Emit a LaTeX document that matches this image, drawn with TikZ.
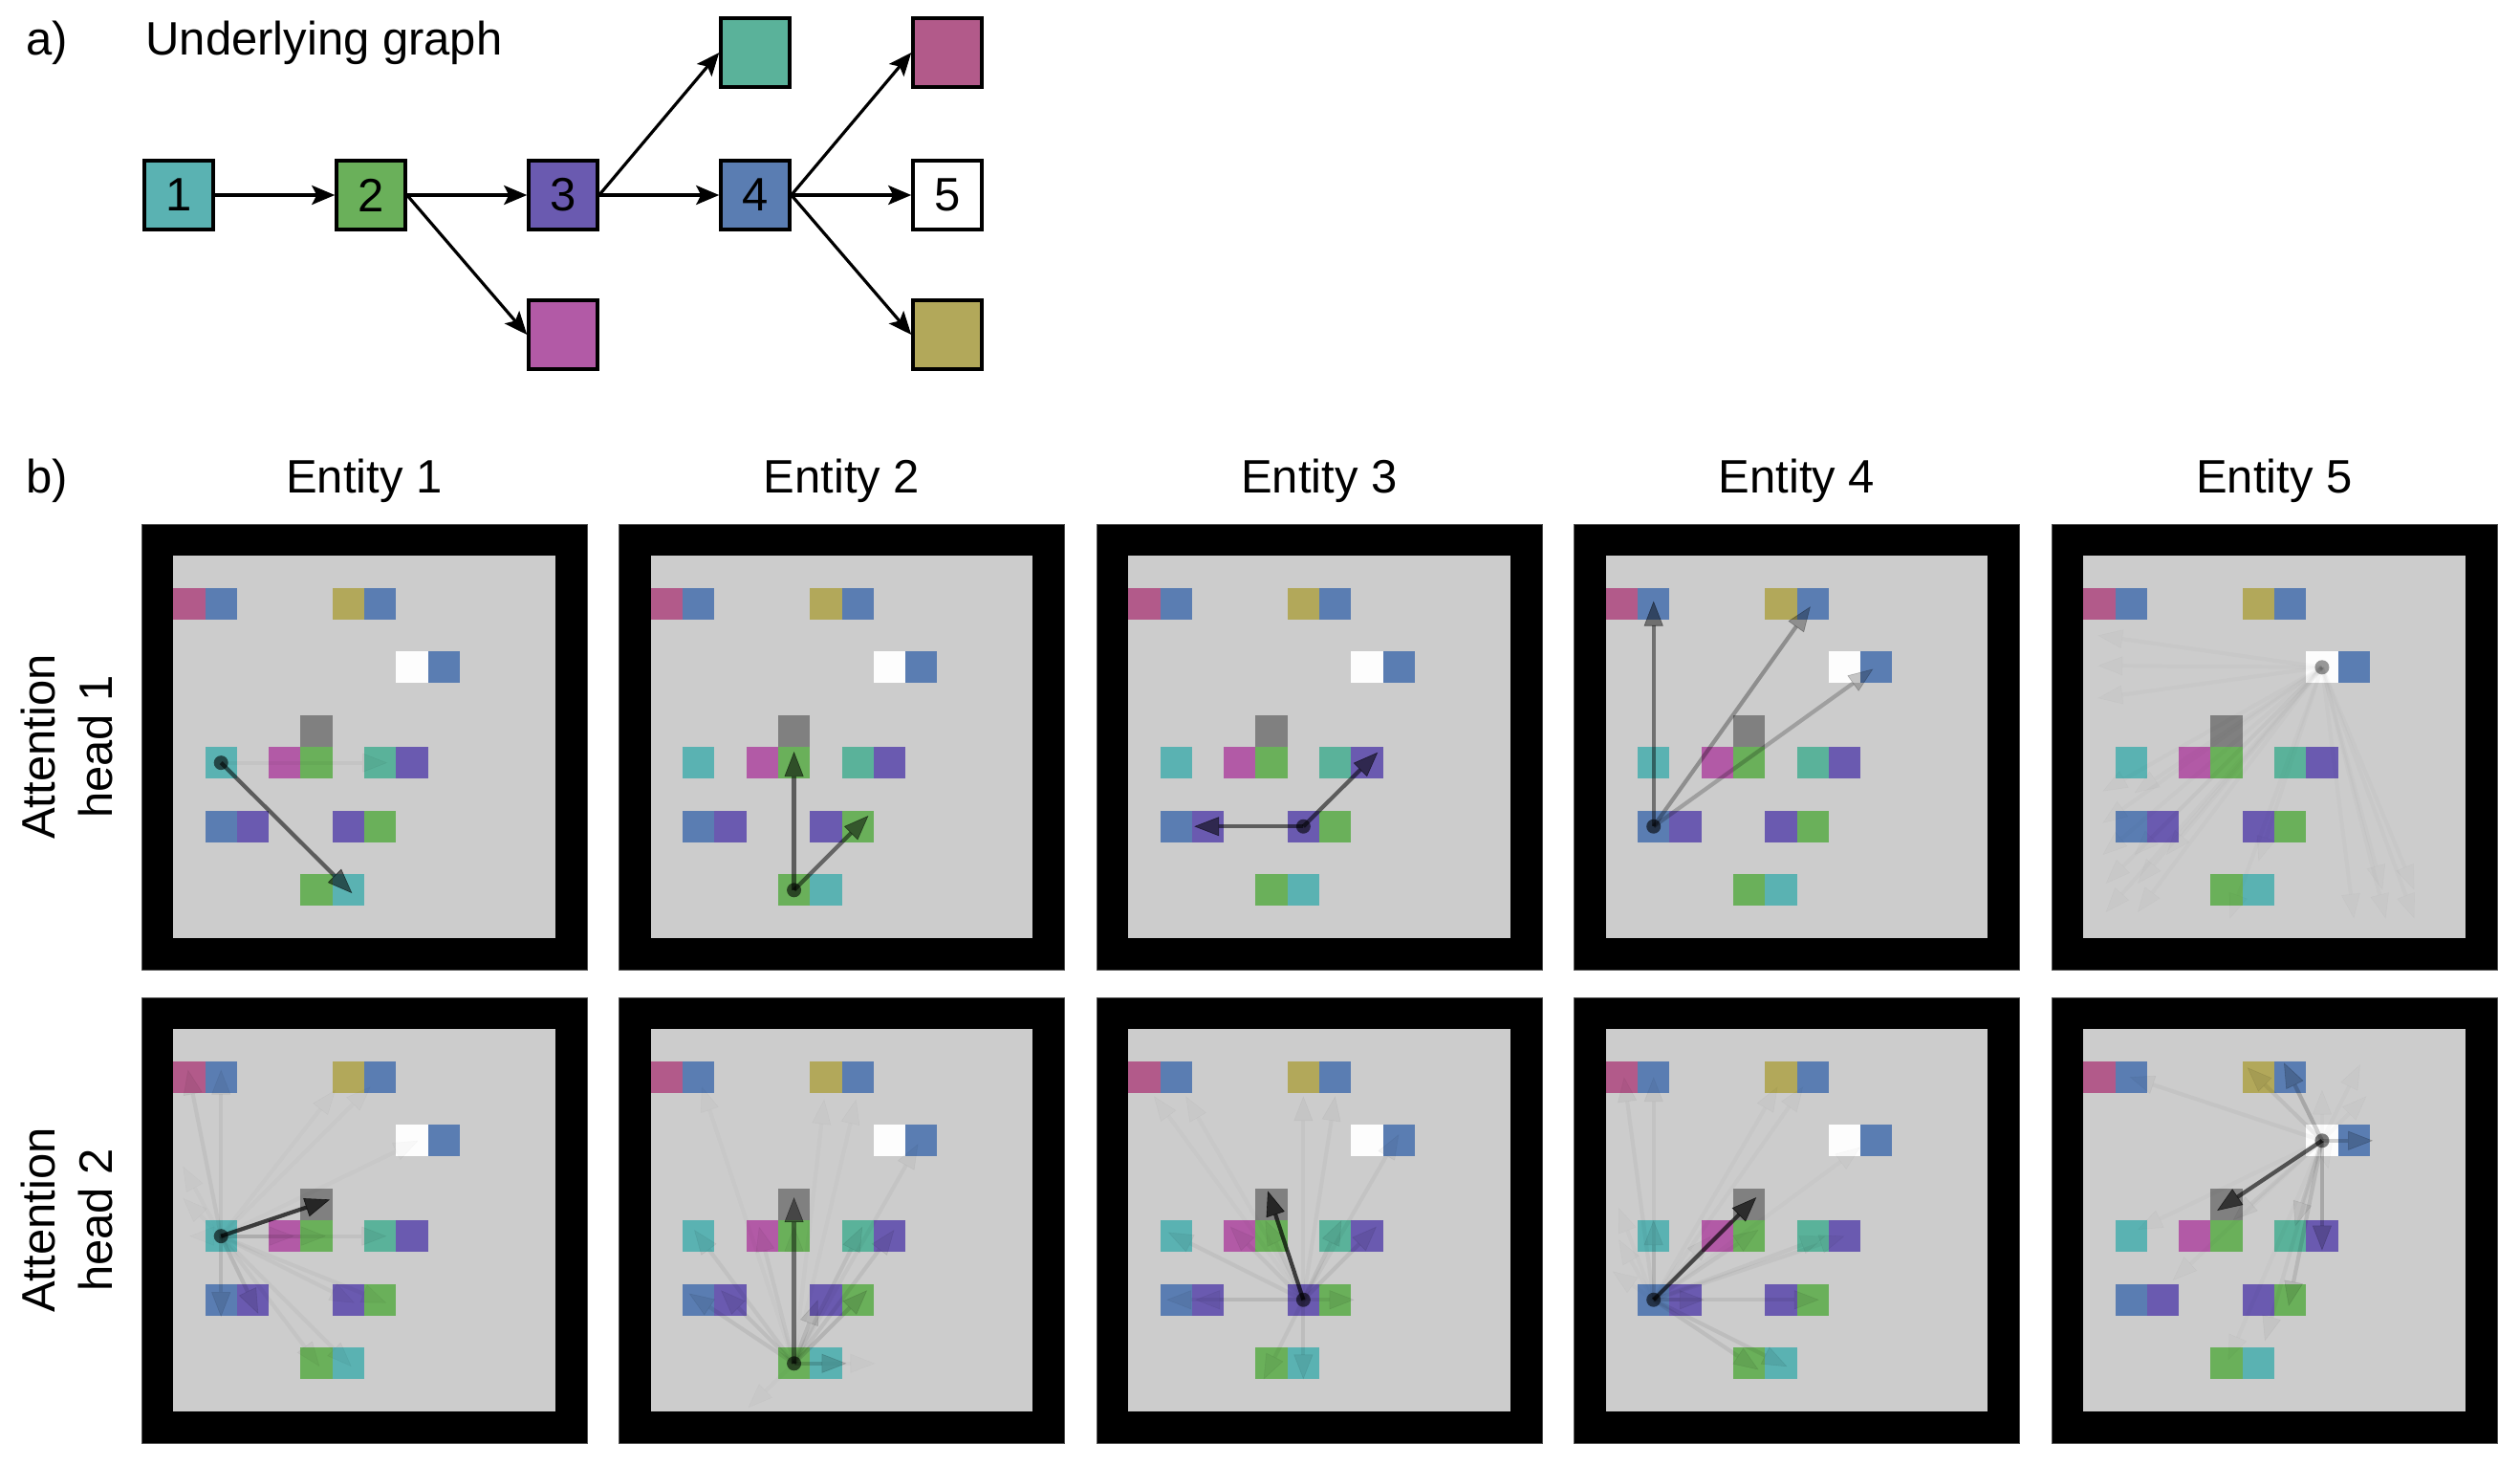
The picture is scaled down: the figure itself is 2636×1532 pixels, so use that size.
\documentclass[tikz,border=0pt]{standalone}
\usepackage{fontspec}
\setmainfont{Liberation Sans}
\usetikzlibrary{arrows.meta,calc}
\definecolor{cOne}{HTML}{5AB2B2}
\definecolor{cTwo}{HTML}{6AB05A}
\definecolor{cThree}{HTML}{6A5AB0}
\definecolor{cFour}{HTML}{5A7DB2}
\definecolor{cTeal}{HTML}{5AB29A}
\definecolor{cRose}{HTML}{B25A8A}
\definecolor{cMag}{HTML}{B25AA6}
\definecolor{cOlive}{HTML}{B2A85A}
\definecolor{cBg}{HTML}{CCCCCC}
\definecolor{cGrey}{HTML}{808080}
\definecolor{cWhite}{HTML}{FDFDFD}
\definecolor{cEdge}{HTML}{505050}
\tikzset{
  gbox/.style={draw=black, line width=1.75pt, minimum size=36pt, inner sep=0pt, font=\fontsize{24.5}{30}\selectfont},
  garrow/.style={line width=1.6pt, -{Stealth[length=12pt,width=10pt,inset=2.5pt]}},
  lbl/.style={inner sep=0pt, font=\fontsize{24.5}{30}\selectfont},
  att/.style={line width=2.1pt, draw=black, opacity=#1, -{Triangle[length=13pt,width=10pt,line width=0.3pt]}},
  startdot/.style={fill=black, opacity=#1},
}
\newcommand{\DrawBoard}{%
  \fill[black] (0,0) rectangle (14,14);
  \draw[cEdge, line width=0.5pt] (0,0) rectangle (14,14);
  \fill[cBg] (1,1) rectangle (13,13);
  \begin{scope}[shift={(1,1)}]
    \foreach \i/\j/\c in {0/1/cRose, 1/1/cFour, 5/1/cOlive, 6/1/cFour, 7/3/cWhite, 8/3/cFour,
      4/5/cGrey, 1/6/cOne, 3/6/cMag, 4/6/cTwo, 6/6/cTeal, 7/6/cThree,
      1/8/cFour, 2/8/cThree, 5/8/cThree, 6/8/cTwo, 4/10/cTwo, 5/10/cOne}
      {\fill[fill=\c] (\i,\j) rectangle ++(1,1);}
  \end{scope}}
\newcommand{\AttFan}[2]{\foreach \a/\x/\y in {#2} {\draw[att=\a] (#1) -- (\x,\y);}}
\begin{document}
\begin{tikzpicture}[x=0.5pt,y=-0.5pt]
\useasboundingbox (0,0) rectangle (2636,1532);
\fill[white] (0,0) rectangle (2636,1532);

% ---------- part a ----------
\node[lbl, anchor=base west] (la) at (27,57) {a)};
\node[lbl, anchor=base west] (ttl) at (152,57) {Underlying graph};
\node[gbox, fill=cOne] (n1) at (187,204) {1};
\node[gbox, fill=cTwo] (n2) at (388,204) {2};
\node[gbox, fill=cThree] (n3) at (589,204) {3};
\node[gbox, fill=cFour] (n4) at (790,204) {4};
\node[gbox, fill=white] (n5) at (991,204) {5};
\node[gbox, fill=cTeal] (t4) at (790,55) {};
\node[gbox, fill=cRose] (t5) at (991,55) {};
\node[gbox, fill=cMag] (b3) at (589,350) {};
\node[gbox, fill=cOlive] (b5) at (991,350) {};
\draw[garrow] (n1.east) -- (n2.west);
\draw[garrow] (n2.east) -- (n3.west);
\draw[garrow] (n3.east) -- (n4.west);
\draw[garrow] (n4.east) -- (n5.west);
\draw[garrow] (n2.east) -- (b3.west);
\draw[garrow] (n3.east) -- (t4.west);
\draw[garrow] (n4.east) -- (t5.west);
\draw[garrow] (n4.east) -- (b5.west);

% ---------- part b labels ----------
\node[lbl, anchor=base west] (lb) at (27,515) {b)};
\node[lbl, anchor=base] (ent1) at (381,515) {Entity 1};
\node[lbl, anchor=base] (ent2) at (880.5,515) {Entity 2};
\node[lbl, anchor=base] (ent3) at (1380,515) {Entity 3};
\node[lbl, anchor=base] (ent4) at (1879.5,515) {Entity 4};
\node[lbl, anchor=base] (ent5) at (2379,515) {Entity 5};
\node[lbl, rotate=90, align=center] (h1) at (70,781) {Attention\\head 1};
\node[lbl, rotate=90, align=center] (h2) at (70,1276) {Attention\\head 2};

% ---------- row 1 (head 1) ----------
\begin{scope}[shift={(148,548)}, x=16.643pt, y=-16.643pt]
 \DrawBoard
 \begin{scope}[shift={(1,1)}]
  \coordinate (s11) at (1.5,6.5);
  \AttFan{s11}{0.04/6.73/6.5, 0.55/5.62/10.6}
  \fill[startdot=0.6] (s11) circle (3.75pt);
 \end{scope}
\end{scope}
\begin{scope}[shift={(647.5,548)}, x=16.643pt, y=-16.643pt]
 \DrawBoard
 \begin{scope}[shift={(1,1)}]
  \coordinate (s12) at (4.5,10.5);
  \AttFan{s12}{0.55/4.5/6.15, 0.5/6.84/8.16}
  \fill[startdot=0.6] (s12) circle (3.75pt);
 \end{scope}
\end{scope}
\begin{scope}[shift={(1147,548)}, x=16.643pt, y=-16.643pt]
 \DrawBoard
 \begin{scope}[shift={(1,1)}]
  \coordinate (s13) at (5.5,8.5);
  \AttFan{s13}{0.55/2.07/8.5, 0.55/7.84/6.17}
  \fill[startdot=0.6] (s13) circle (3.75pt);
 \end{scope}
\end{scope}
\begin{scope}[shift={(1646.5,548)}, x=16.643pt, y=-16.643pt]
 \DrawBoard
 \begin{scope}[shift={(1,1)}]
  \coordinate (s14) at (1.5,8.5);
  \AttFan{s14}{0.22/8.4/3.55, 0.3/6.43/1.59, 0.45/1.5/1.42}
  \fill[startdot=0.6] (s14) circle (3.75pt);
 \end{scope}
\end{scope}
\begin{scope}[shift={(2146,548)}, x=16.643pt, y=-16.643pt]
 \DrawBoard
 \begin{scope}[shift={(1,1)}]
  \coordinate (s15) at (7.5,3.5);
  \AttFan{s15}{0.017/0.45/2.5, 0.017/0.45/3.45, 0.017/0.45/4.47, 0.017/0.6/7.4, 0.017/1.6/7.45,
   0.017/0.6/8.4, 0.017/0.6/9.4, 0.017/1.6/9.4, 0.017/2.6/9.4, 0.017/0.7/10.3, 0.017/1.7/10.3,
   0.017/0.7/11.2, 0.017/1.7/11.2, 0.017/4.6/11.4, 0.017/5.5/9.6, 0.017/8.5/11.4, 0.017/9.5/11.4,
   0.017/10.4/11.4, 0.017/9.4/10.5, 0.017/10.4/10.5}
  \fill[startdot=0.4] (s15) circle (3.75pt);
 \end{scope}
\end{scope}

% ---------- row 2 (head 2) ----------
\begin{scope}[shift={(148,1043)}, x=16.643pt, y=-16.643pt]
 \DrawBoard
 \begin{scope}[shift={(1,1)}]
  \coordinate (s21) at (1.5,6.5);
  \AttFan{s21}{0.05/0.46/1.27, 0.05/1.5/1.27, 0.1/1.5/9.04, 0.1/2.67/8.94, 0.05/3.8/6.5,
   0.05/4.8/6.5, 0.05/6.7/6.5, 0.035/5.7/8.6, 0.035/6.7/8.6, 0.035/4.6/10.6, 0.035/5.6/10.6,
   0.02/5.1/1.9, 0.02/6.2/1.8, 0.02/7.7/3.5, 0.017/0.3/4.3, 0.017/0.3/5.3, 0.017/0.5/6.5,
   0.7/4.92/5.35}
  \fill[startdot=0.6] (s21) circle (3.75pt);
 \end{scope}
\end{scope}
\begin{scope}[shift={(647.5,1043)}, x=16.643pt, y=-16.643pt]
 \DrawBoard
 \begin{scope}[shift={(1,1)}]
  \coordinate (s22) at (4.5,10.5);
  \AttFan{s22}{0.15/6.15/10.5, 0.05/1.36/6.3, 0.045/3.4/6.2, 0.07/6.65/6.2, 0.07/7.65/6.3,
   0.07/1.2/8.3, 0.07/2.2/8.2, 0.1/5.25/8.5, 0.12/6.8/8.2, 0.035/8.4/3.6, 0.02/1.6/1.8,
   0.02/5.45/2.2, 0.02/6.45/2.2, 0.017/3.05/11.9, 0.017/7.05/10.5, 0.045/4.5/6.2,
   0.45/4.5/5.28}
  \fill[startdot=0.6] (s22) circle (3.75pt);
 \end{scope}
\end{scope}
\begin{scope}[shift={(1147,1043)}, x=16.643pt, y=-16.643pt]
 \DrawBoard
 \begin{scope}[shift={(1,1)}]
  \coordinate (s23) at (5.5,8.5);
  \AttFan{s23}{0.05/1.25/6.38, 0.05/3.2/6.2, 0.05/4.3/6.0, 0.07/6.7/6.0, 0.08/7.8/6.2,
   0.045/8.5/3.3, 0.03/5.5/2.1, 0.03/6.5/2.1, 0.02/0.8/2.1, 0.02/1.8/2.1, 0.05/1.2/8.5,
   0.05/2.1/8.5, 0.07/7.1/8.5, 0.07/5.5/11.0, 0.05/4.25/11.0,
   0.7/4.38/5.08}
  \fill[startdot=0.6] (s23) circle (3.75pt);
 \end{scope}
\end{scope}
\begin{scope}[shift={(1646.5,1043)}, x=16.643pt, y=-16.643pt]
 \DrawBoard
 \begin{scope}[shift={(1,1)}]
  \coordinate (s24) at (1.5,8.5);
  \AttFan{s24}{0.07/1.5/6.0, 0.045/1.5/1.5, 0.035/0.57/1.5, 0.025/5.4/1.8, 0.025/6.2/1.8,
   0.02/8.0/3.7, 0.035/3.3/6.5, 0.05/4.8/6.3, 0.045/6.9/6.5, 0.045/7.5/6.5, 0.07/3.1/8.5,
   0.07/6.7/8.5, 0.07/4.8/10.7, 0.07/5.7/10.6, 0.017/0.4/5.6, 0.017/0.4/6.6, 0.017/0.2/7.6,
   0.65/4.73/5.28}
  \fill[startdot=0.6] (s24) circle (3.75pt);
 \end{scope}
\end{scope}
\begin{scope}[shift={(2146,1043)}, x=16.643pt, y=-16.643pt]
 \DrawBoard
 \begin{scope}[shift={(1,1)}]
  \coordinate (s25) at (7.5,3.5);
  \AttFan{s25}{0.18/9.1/3.5, 0.18/7.5/6.95, 0.1/6.45/8.7, 0.07/6.65/6.2, 0.18/6.3/1.05,
   0.07/5.15/1.2, 0.035/1.45/1.5, 0.045/4.7/6.0, 0.035/5.7/9.8, 0.02/4.55/10.4, 0.02/1.7/6.3,
   0.02/2.8/7.9, 0.02/8.7/1.1, 0.02/8.9/2.1, 0.02/7.5/1.9, 0.02/7.7/4.4,
   0.6/4.2/5.7}
  \fill[startdot=0.5] (s25) circle (3.75pt);
 \end{scope}
\end{scope}
\end{tikzpicture}
\end{document}
